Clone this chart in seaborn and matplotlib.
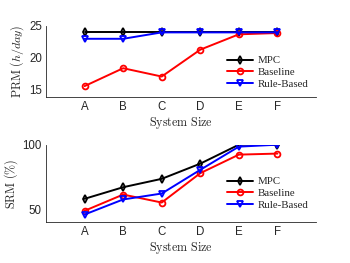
import matplotlib
matplotlib.use("Agg")
import matplotlib.pyplot as plt
import seaborn as sns

# categories
sizes = ["A", "B", "C", "D", "E", "F"]

# PRM (h/day)
prm_mpc = [24.0, 24.0, 24.0, 24.0, 24.0, 24.0]
prm_baseline = [15.6, 18.4, 17.1, 21.3, 23.7, 23.9]
prm_rule = [23.0, 23.0, 24.0, 24.0, 24.0, 24.0]

# SRM (%)
srm_mpc = [58.0, 67.0, 73.5, 85.3, 100.0, 100.0]
srm_baseline = [48.7, 61.3, 55.1, 77.9, 92.3, 93.1]
srm_rule = [45.8, 57.5, 62.1, 80.5, 98.5, 100.0]

series_names = ["MPC", "Baseline", "Rule-Based"]
colors = ["black", "red", "blue"]
markers = ["d", "o", "v"]

sns.set_theme(style="white")
plt.rcParams["mathtext.fontset"] = "cm"
plt.rcParams["font.family"] = ["Liberation Sans", "DejaVu Sans"]

fig = plt.figure(figsize=(3.5, 2.63), dpi=100)
ax1 = fig.add_axes([46 / 350, 1 - 97 / 263, 270 / 350, 71 / 263])
ax2 = fig.add_axes([46 / 350, 1 - 222 / 263, 270 / 350, 77.3 / 263])

pos = list(range(1, len(sizes) + 1))


def draw(ax, data, ylabel, ylim, yticks):
    for vals, name, c, m in zip(data, series_names, colors, markers):
        sns.lineplot(x=pos, y=vals, ax=ax, color=c, marker=m, markersize=4.2,
                     markerfacecolor="none", markeredgecolor=c, markeredgewidth=1.3,
                     linewidth=1.4, label=name)
    ax.set_xlim(0, 7)
    ax.set_ylim(*ylim)
    ax.set_xticks(pos)
    ax.set_xticklabels(sizes)
    ax.set_yticks(yticks)
    ax.tick_params(direction="in", length=2, labelsize=8.3, colors="#262626", pad=3)
    for s in ["top", "right"]:
        ax.spines[s].set_visible(False)
    for s in ["left", "bottom"]:
        ax.spines[s].set_color("#262626")
        ax.spines[s].set_linewidth(0.6)
    ax.set_xlabel(r"$\mathrm{System\ Size}$", fontsize=8.7, color="#262626", labelpad=1)
    ax.set_ylabel(ylabel, fontsize=8.7, color="#262626", labelpad=2)
    ax.legend(loc="upper left", bbox_to_anchor=(0.655, 0.64), frameon=False,
              handlelength=2.4, handletextpad=0.4,
              labelspacing=0.2, borderaxespad=0,
              prop={"family": "Liberation Serif", "size": 7.8})


draw(ax1, [prm_mpc, prm_baseline, prm_rule], r"$\mathrm{PRM}\ (h/day)$", (13.9, 25), [15, 20, 25])
draw(ax2, [srm_mpc, srm_baseline, srm_rule], r"$\mathrm{SRM}\ (\%)$", (40, 100), [50, 100])

fig.savefig("out.png", dpi=100)
